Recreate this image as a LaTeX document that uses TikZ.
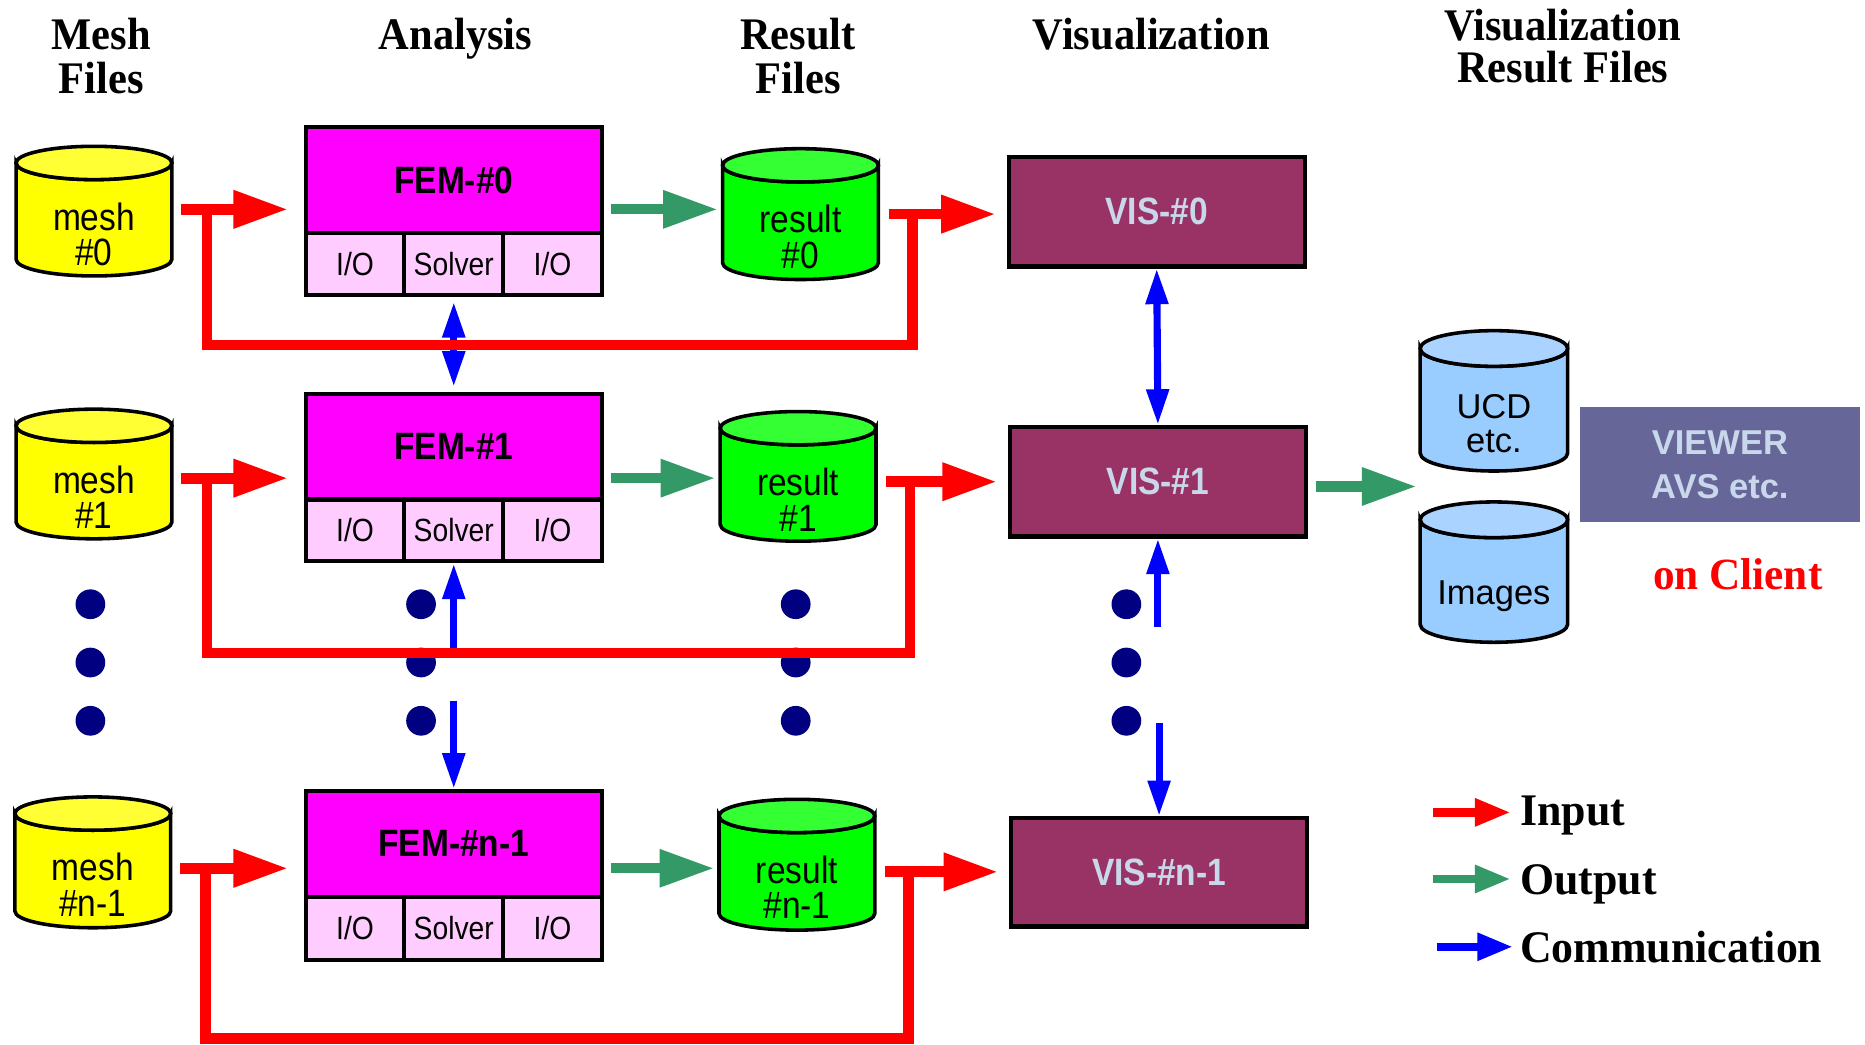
\documentclass[tikz,border=0pt]{standalone}
\usepackage{fontspec}
\setmainfont{Liberation Serif}
\newfontfamily\condsans[FakeStretch=0.88]{Liberation Sans}
\newfontfamily\plainsans{Liberation Sans}
\newfontfamily\titleserif[FakeStretch=0.94]{Liberation Serif}
\newfontfamily\legserif[FakeStretch=0.97]{Liberation Serif}
\usetikzlibrary{arrows.meta,calc}
\definecolor{meshY}{HTML}{FFFF00}
\definecolor{meshYt}{HTML}{FFFF33}
\definecolor{resG}{HTML}{00FF00}
\definecolor{resGt}{HTML}{33FF33}
\definecolor{ucdB}{HTML}{99CCFF}
\definecolor{ucdBt}{HTML}{AAD4FF}
\definecolor{femM}{HTML}{FF00FF}
\definecolor{femP}{HTML}{FFCCFF}
\definecolor{visR}{HTML}{993366}
\definecolor{visT}{HTML}{C8D8EA}
\definecolor{viewB}{HTML}{666699}
\definecolor{arrR}{HTML}{FF0000}
\definecolor{arrG}{HTML}{339966}
\definecolor{arrB}{HTML}{0000FF}
\definecolor{dotN}{HTML}{000080}
\tikzset{
  cylline/.style={draw=black, line width=3pt},
  cyltext/.style={inner sep=0pt, align=center, font=\condsans\fontsize{32}{30}\selectfont},
  ucdtext/.style={inner sep=0pt, align=center, font=\plainsans\fontsize{29}{29}\selectfont},
  femtop/.style={draw=black, line width=3.5pt, fill=femM, inner sep=0pt, font=\condsans\bfseries\fontsize{32}{32}\selectfont},
  femsub/.style={draw=black, line width=3.5pt, fill=femP, inner sep=0pt, font=\condsans\fontsize{27}{27}\selectfont},
  visbox/.style={draw=black, line width=3.5pt, fill=visR, text=visT, inner sep=0pt, minimum width=249pt, font=\condsans\bfseries\fontsize{32}{32}\selectfont},
  viewer/.style={fill=viewB, text=visT, inner sep=0pt, align=center, minimum width=236pt, minimum height=97pt, font=\plainsans\bfseries\fontsize{29}{37}\selectfont},
  title/.style={inner sep=0pt, anchor=base, font=\titleserif\bfseries\fontsize{38}{38}\selectfont},
  legtext/.style={inner sep=0pt, anchor=base west, font=\legserif\bfseries\fontsize{38}{38}\selectfont},
  redline/.style={draw=arrR, line width=9pt, line join=miter},
  redarr/.style={draw=arrR, line width=9pt, -{Triangle[length=46pt,width=30pt]}},
  greenarr/.style={draw=arrG, line width=8.5pt, -{Triangle[length=46pt,width=30pt]}},
  bluearr/.style={draw=arrB, line width=6pt, -{Triangle[length=30pt,width=18pt]}},
  bluedbl/.style={draw=arrB, line width=6pt, {Triangle[length=30pt,width=18pt]}-{Triangle[length=30pt,width=18pt]}},
  legred/.style={draw=arrR, line width=7pt, -{Triangle[length=30pt,width=22pt]}},
  leggreen/.style={draw=arrG, line width=7pt, -{Triangle[length=30pt,width=22pt]}},
  legblue/.style={draw=arrB, line width=7pt, -{Triangle[length=30pt,width=22pt]}},
  bigdot/.style={fill=dotN}
}
\newcommand\drawcyl[9]{%
  \path[cylline, fill=#7] ({#2-#5},{#3+#6}) -- ({#2-#5},{#4-#6})
     arc[start angle=180,end angle=360,x radius=#5pt,y radius=#6pt]
     -- ({#2+#5},{#3+#6})
     arc[start angle=0,end angle=-180,x radius=#5pt,y radius=#6pt] -- cycle;
  \path[cylline, fill=#8] (#2,{#3+#6}) ellipse[x radius=#5pt,y radius=#6pt];
  \node[inner sep=0pt, outer sep=0pt, minimum width={2*#5*1pt}, minimum height={(#4-#3)*1pt}] (#1) at (#2,#9) {};
}
\newcommand\fembox[5]{%
  \node[femtop, minimum width=249pt, minimum height={(#3-#2)*1pt}] (#1) at (381.5,{(#2+#3)/2}) {#5};
  \node[femsub, minimum width=83pt, minimum height={(#4-#3)*1pt}] (#1io1) at (298.5,{(#3+#4)/2}) {I/O};
  \node[femsub, minimum width=83pt, minimum height={(#4-#3)*1pt}] (#1sol) at (381.5,{(#3+#4)/2}) {Solver};
  \node[femsub, minimum width=83pt, minimum height={(#4-#3)*1pt}] (#1io2) at (464.5,{(#3+#4)/2}) {I/O};
}
\begin{document}
\begin{tikzpicture}[x=1pt,y=-1pt]
\useasboundingbox (0,0) rectangle (1568,878);
% titles
\node[title] (tmesh) at (85,42) {Mesh};
\node[title] (tmeshf) at (85,79) {Files};
\node[title] (tana) at (383,42) {Analysis};
\node[title] (tres) at (671,42) {Result};
\node[title] (tresf) at (671,79) {Files};
\node[title] (tvis) at (968,42) {Visualization};
\node[title] (tvr1) at (1314,34) {Visualization};
\node[title] (tvr2) at (1314,69) {Result Files};
% cylinders
\drawcyl{mesh0}{79}{123}{232}{65.5}{14}{meshY}{meshYt}{176}
\drawcyl{mesh1}{79}{344}{453}{65.5}{14}{meshY}{meshYt}{402}
\drawcyl{meshn}{78}{670}{780}{65.5}{14}{meshY}{meshYt}{730}
\drawcyl{res0}{673}{125}{235}{65.5}{14}{resG}{resGt}{180}
\drawcyl{res1}{671}{346}{455}{65.5}{14}{resG}{resGt}{405}
\drawcyl{resn}{670}{672}{782}{65.5}{14}{resG}{resGt}{733}
\drawcyl{ucd}{1256}{278}{396}{62}{15}{ucdB}{ucdBt}{337}
\drawcyl{img}{1256}{422}{540}{62}{15}{ucdB}{ucdBt}{481}
\node[cyltext] (mesh0t) at (79,197) {mesh\\\#0};
\node[cyltext] (mesh1t) at (79,418) {mesh\\\#1};
\node[cyltext] (mesht) at (78,744) {mesh\\\#n-1};
\node[cyltext] (res0t) at (673,199) {result\\\#0};
\node[cyltext] (res1t) at (671,420) {result\\\#1};
\node[cyltext] (resnt) at (670,746) {result\\\#n-1};
\node[ucdtext] (ucdt) at (1256,356) {UCD\\etc.};
\node[ucdtext] (imgt) at (1256,501) {Images};
% FEM boxes
\fembox{fem0}{107}{196}{248}{FEM-\#0}
\fembox{fem1}{331}{420}{472}{FEM-\#1}
\fembox{femn}{665}{754}{807}{FEM-\#n-1}
% VIS boxes
\node[visbox, minimum height=92pt] (vis0) at (972.5,178) {VIS-\#0};
\node[visbox, minimum height=92pt] (vis1) at (973.5,405) {VIS-\#1};
\node[visbox, minimum height=91pt] (visn) at (974.5,733.5) {VIS-\#n-1};
% viewer
\node[viewer] (view) at (1446,390.5) {VIEWER\\AVS etc.};
\node[inner sep=0pt, anchor=base, text=arrR, font=\legserif\bfseries\fontsize{37.5}{37.5}\selectfont] (client) at (1461,496) {on Client};
% dots
\foreach \dx in {76,354,669,947} {
  \foreach \dy in {508,557,606} {
    \fill[bigdot] (\dx,\dy) circle[radius=12.5pt];
  }
}
% blue communication arrows
\coordinate (b1) at (381.5,545);
\coordinate (b2) at (381.5,589);
\coordinate (b3) at (973.5,527);
\coordinate (b4) at (974.5,608);
\draw[bluedbl, shorten <=4pt, shorten >=4pt] (fem0sol.south) -- (fem1.north);
\draw[bluearr] (b1) -- (fem1sol.south);
\draw[bluearr] (b2) -- (femn.north);
\draw[bluedbl] (vis0.south) -- (vis1.north);
\draw[bluearr] (b3) -- (vis1.south);
\draw[bluearr] (b4) -- (visn.north);
% red input arrows and loops
\draw[redarr, shorten <=7.5pt, shorten >=13pt] (mesh0.east) -- (fem0.west |- mesh0.east);
\draw[redarr, shorten <=8.5pt, shorten >=9pt] (res0.east) -- (vis0.west |- res0.east);
\draw[redline] ([xshift=29.5pt]mesh0.east) -- ++(0,114) -| ([xshift=28.5pt]res0.east);
\draw[redarr, shorten <=7.5pt, shorten >=13pt] (mesh1.east) -- (fem1.west |- mesh1.east);
\draw[redarr, shorten <=8.5pt, shorten >=9pt] (res1.east) -- (vis1.west |- res1.east);
\draw[redline] ([xshift=29.5pt]mesh1.east) -- ++(0,147) -| ([xshift=28.5pt]res1.east);
\draw[redarr, shorten <=7.5pt, shorten >=13pt] (meshn.east) -- (femn.west |- meshn.east);
\draw[redarr, shorten <=8.5pt, shorten >=9pt] (resn.east) -- (visn.west |- resn.east);
\draw[redline] ([xshift=29.5pt]meshn.east) -- ++(0,143) -| ([xshift=28.5pt]resn.east);
% green output arrows
\draw[greenarr, shorten <=6pt, shorten >=4pt] (fem0.east |- mesh0.east) -- (res0.west |- mesh0.east);
\draw[greenarr, shorten <=6pt, shorten >=4pt] (fem1.east |- mesh1.east) -- (res1.west |- mesh1.east);
\draw[greenarr, shorten <=6pt, shorten >=4pt] (femn.east |- meshn.east) -- (resn.west |- meshn.east);
\coordinate (store) at ($(ucd.south west)!0.5!(img.north west)$);
\draw[greenarr, shorten <=7pt, shorten >=3pt] (vis1.east |- store) -- (store);
% legend
\node[legtext] (legIn) at (1278,694) {Input};
\node[legtext] (legOut) at (1278,752) {Output};
\node[legtext] (legCom) at (1278,809) {Communication};
\coordinate (lr) at (1205,683);
\coordinate (lg) at (1205,739);
\coordinate (lb) at (1208,796);
\draw[legred, shorten >=8pt] (lr) -- (legIn.west |- lr);
\draw[leggreen, shorten >=8pt] (lg) -- (legOut.west |- lg);
\draw[legblue, shorten >=6pt] (lb) -- (legCom.west |- lb);
\end{tikzpicture}
\end{document}
